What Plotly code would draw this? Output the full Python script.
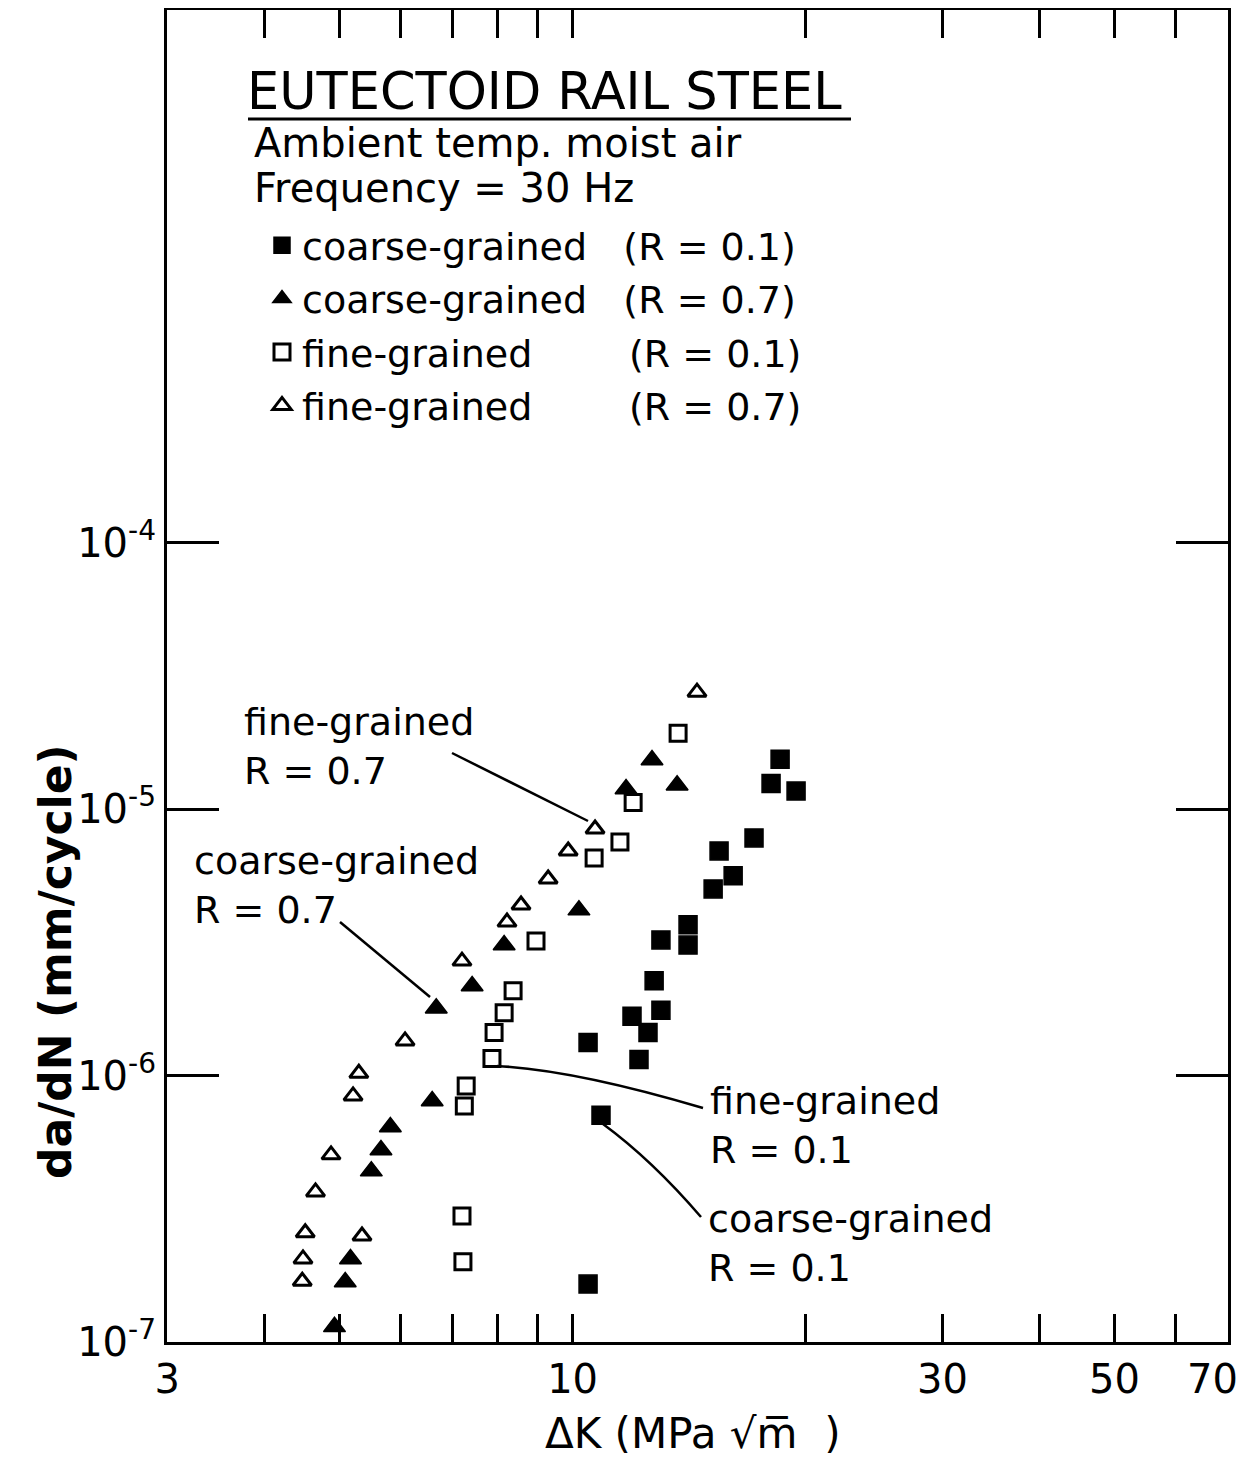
import math
import plotly.graph_objects as go

# ---------------- data ----------------
# Delta K in MPa*sqrt(m), da/dN in mm/cycle
coarse_r01_dk = [10.47, 10.88, 10.47, 11.93, 12.51, 12.18, 12.74, 13.00, 13.00,
                 14.09, 14.09, 15.18, 15.45, 16.11, 17.14, 18.03, 18.52, 19.42]
coarse_r01_dadn = [1.33e-6, 7.1e-7, 1.65e-7, 1.67e-6, 1.45e-6, 1.15e-6, 2.27e-6, 1.76e-6, 3.23e-6,
                   3.68e-6, 3.09e-6, 5.02e-6, 6.97e-6, 5.62e-6, 7.80e-6, 1.25e-5, 1.54e-5, 1.17e-5]

coarse_r07_dk = [4.93, 5.09, 5.17, 5.50, 5.66, 5.82, 6.59, 6.67, 7.42, 8.16, 10.19, 11.72, 12.66, 13.64]
coarse_r07_dadn = [1.14e-7, 1.68e-7, 2.05e-7, 4.38e-7, 5.26e-7, 6.41e-7, 8.03e-7, 1.79e-6, 2.17e-6,
                   3.09e-6, 4.18e-6, 1.19e-5, 1.53e-5, 1.23e-5]

fine_r01_dk = [13.68, 11.97, 11.51, 10.66, 8.97, 8.38, 8.16, 7.92, 7.87, 7.29, 7.25, 7.20, 7.22]
fine_r01_dadn = [1.93e-5, 1.06e-5, 7.53e-6, 6.56e-6, 3.20e-6, 2.08e-6, 1.72e-6, 1.45e-6, 1.16e-6,
                 9.14e-7, 7.69e-7, 2.97e-7, 2.0e-7]

fine_r07_dk = [14.47, 10.69, 9.87, 9.30, 8.58, 8.23, 7.20, 6.08, 5.30, 5.21, 4.88, 4.66, 4.52, 5.35,
               4.49, 4.48]
fine_r07_dadn = [2.75e-5, 8.43e-6, 6.97e-6, 5.47e-6, 4.37e-6, 3.77e-6, 2.69e-6, 1.35e-6, 1.02e-6,
                 8.39e-7, 5.04e-7, 3.66e-7, 2.57e-7, 2.50e-7, 2.05e-7, 1.69e-7]

series_names = [
    "coarse-grained\u00a0\u00a0\u00a0(R = 0.1)",
    "coarse-grained\u00a0\u00a0\u00a0(R = 0.7)",
    "fine-grained" + "\u00a0" * 8 + "(R = 0.1)",
    "fine-grained" + "\u00a0" * 8 + "(R = 0.7)",
]

x_major_vals = [3, 10, 30, 50]
x_major_text = ["3", "10", "30", "50"]
x_minor_vals = [4, 5, 6, 7, 8, 9, 20, 40, 60, 70]
x_edge_label = "70"          # label of the right-hand frame (x = 70)
y_tick_vals = [1e-7, 1e-6, 1e-5, 1e-4]
y_tick_text = ["10<sup>-7</sup>", "10<sup>-6</sup>", "10<sup>-5</sup>", "10<sup>-4</sup>"]

X_RANGE = [3, 70]
Y_RANGE = [1e-7, 1e-2]

# ---------------- layout geometry (page pixels) ----------------
BODY = 8                      # default page margin around the plotly div
PAGE_W, PAGE_H = 1244, 1463
PL, PR, PT, PB = 167, 1228, 10, 1342     # plot frame in page pixels
W, H = PAGE_W - BODY, PAGE_H - BODY
ML, MT = PL - BODY, PT - BODY
MR, MB = W - (PR - BODY), H - (PB - BODY)
PW, PH = PR - PL, PB - PT
FONT = "DejaVu Sans"


def paper(px, py):
    """page pixel position -> paper coordinates"""
    return (px - PL) / PW, (PB - py) / PH


fig = go.Figure()

styles = [
    dict(symbol="square", size=18, color="black", line=dict(color="black", width=1.5)),
    dict(symbol="triangle-up", size=19, color="black", line=dict(color="black", width=1.5)),
    dict(symbol="square-open", size=16, color="black", line=dict(color="black", width=3)),
    dict(symbol="triangle-up-open", size=16, color="black", line=dict(color="black", width=3)),
]
series = [(coarse_r01_dk, coarse_r01_dadn), (coarse_r07_dk, coarse_r07_dadn),
          (fine_r01_dk, fine_r01_dadn), (fine_r07_dk, fine_r07_dadn)]

for i, ((xs, ys), name, mk) in enumerate(zip(series, series_names, styles)):
    fig.add_trace(go.Scatter(x=xs, y=ys, mode="markers", name=name, marker=mk,
                             legendgroup=f"g{i}", showlegend=True))

axis_common = dict(showline=True, linecolor="black", linewidth=3, mirror="ticks",
                   ticks="inside", tickcolor="black", tickwidth=2.5,
                   showgrid=False, zeroline=False, ticklabelstandoff=0,
                   automargin=False,
                   tickfont=dict(family=FONT, size=40, color="black"))

fig.update_xaxes(type="log",
                 range=[math.log10(X_RANGE[0]) - 0.0003, math.log10(X_RANGE[1]) + 0.0003],
                 tickmode="array", tickvals=x_major_vals, ticktext=x_major_text, ticklen=28,
                 minor=dict(tickmode="array", tickvals=x_minor_vals, ticks="inside",
                            ticklen=28, tickwidth=2.5, tickcolor="black", showgrid=False),
                 **axis_common)
fig.update_yaxes(type="log", range=[math.log10(Y_RANGE[0]), math.log10(Y_RANGE[1])],
                 tickmode="array", tickvals=y_tick_vals, ticktext=y_tick_text,
                 ticklen=52, **axis_common)

annotations = []


def text(px, py, s, size=38, xanchor="left", yanchor="middle", angle=0, bold=False):
    xp, yp = paper(px, py)
    annotations.append(dict(x=xp, y=yp, xref="paper", yref="paper", text=s, showarrow=False,
                            xanchor=xanchor, yanchor=yanchor, align="left", textangle=angle,
                            borderpad=0,
                            font=dict(family=FONT, size=size, color="black",
                                      weight="bold" if bold else "normal")))


text(246, 91, "EUTECTOID RAIL STEEL", size=51)
text(253, 143, "Ambient temp. moist air", size=40)
text(253, 188, "Frequency = 30 Hz", size=40)

text(243, 746, "fine-grained<br>R = 0.7")
text(193, 885, "coarse-grained<br>R = 0.7")
text(709, 1125, "fine-grained<br>R = 0.1")
text(707, 1243, "coarse-grained<br>R = 0.1")

text(55, 962, "da/dN (mm/cycle)", size=44, xanchor="center", angle=-90, bold=True)
text(693, 1434, "\u0394K\u00a0(MPa\u00a0\u221am\u0305\u00a0\u00a0)", size=42, xanchor="center")
text(1239, 1379, x_edge_label, size=40, xanchor="right")

shapes = []
x0, y0 = paper(248, 119)
x1, y1 = paper(851, 119)
shapes.append(dict(type="line", xref="paper", yref="paper", x0=x0, y0=y0, x1=x1, y1=y1,
                   line=dict(color="black", width=3)))


def path(points, curve=False):
    pts = [paper(*p) for p in points]
    if curve:
        (a, b), (c, d), (e, f) = pts
        d_ = f"M{a},{b} Q{c},{d} {e},{f}"
    else:
        d_ = "M" + " L".join(f"{a},{b}" for a, b in pts)
    shapes.append(dict(type="path", xref="paper", yref="paper", path=d_,
                       line=dict(color="black", width=2.5)))


path([(452, 753), (588, 821)])
path([(340, 922), (430, 997)])
path([(497, 1066), (575, 1070), (703, 1108)], curve=True)
path([(603, 1124), (652, 1160), (701, 1217)], curve=True)

lx, ly = paper(262, 214)
fig.update_layout(
    width=W, height=H,
    margin=dict(l=ML, r=MR, t=MT, b=MB, pad=0, autoexpand=False),
    paper_bgcolor="white", plot_bgcolor="white",
    font=dict(family=FONT, color="black"),
    annotations=annotations, shapes=shapes,
    showlegend=True,
    legend=dict(x=lx, y=ly, xanchor="left", yanchor="top", bgcolor="rgba(0,0,0,0)",
                font=dict(family=FONT, size=38, color="black"), tracegroupgap=1,
                itemsizing="trace"),
)

fig.write_html("out.html")
